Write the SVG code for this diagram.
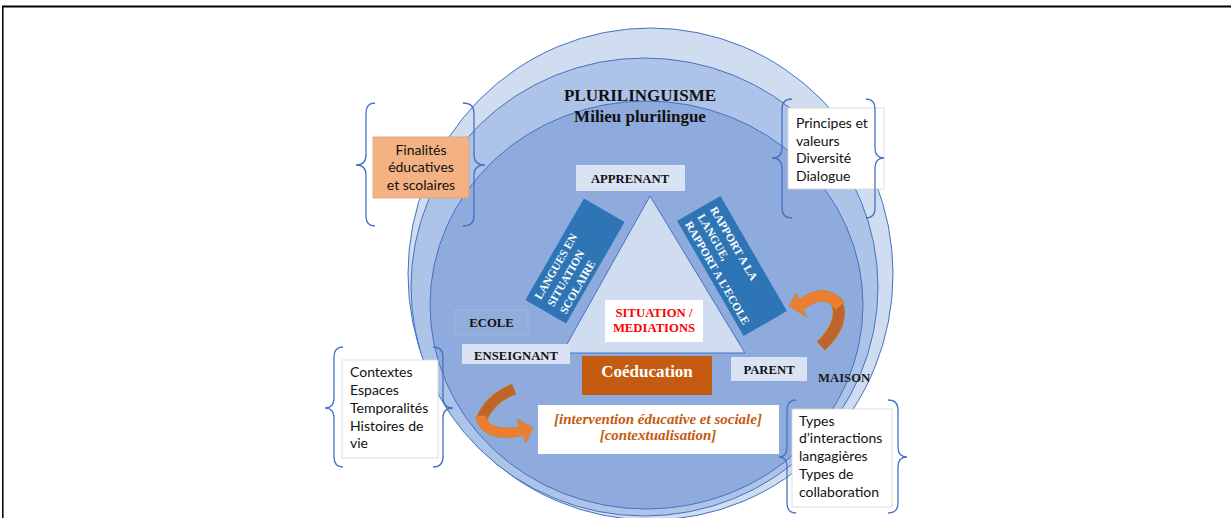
<svg xmlns="http://www.w3.org/2000/svg" width="1231" height="518" viewBox="0 0 1231 518">
<defs>
<style>
.lbl{font-family:"Liberation Serif","Times New Roman",serif;font-weight:bold;fill:#111;}
.side{font-family:Lato,"Liberation Sans",sans-serif;font-size:14px;fill:#111;}
.lb{fill:#dae3f3;stroke:none;}
.wbox{fill:#fff;stroke:#d4d4d4;stroke-width:0.8;}
.brace{fill:none;stroke:#4472c4;stroke-width:1.3;}
.ring{stroke:#4472c4;stroke-width:1;}
.rot{fill:#2e75b6;}
.rtxt{font-family:"Liberation Serif","Times New Roman",serif;font-weight:bold;font-size:11.4px;fill:#fff;}
</style>
</defs>
<rect width="1231" height="518" fill="#fff"/>
<!-- frame -->
<line x1="2" y1="6.5" x2="1231" y2="6.5" stroke="#000" stroke-width="2"/>
<line x1="2.8" y1="6" x2="2.8" y2="518" stroke="#000" stroke-width="1.5"/>

<g id="circles">
<ellipse class="ring" cx="650.5" cy="274" rx="242.5" ry="246" fill="#d0dcf0"/>
<ellipse class="ring" cx="644.5" cy="287" rx="233.5" ry="229" fill="#adc3e7"/>
<ellipse class="ring" cx="646.5" cy="305" rx="216.5" ry="204" fill="#8faadc"/>
</g>

<g id="titles">
<text class="lbl" x="640" y="101" font-size="17" text-anchor="middle">PLURILINGUISME</text>
<text class="lbl" x="640" y="122" font-size="17" text-anchor="middle">Milieu plurilingue</text>
</g>

<g id="triangle">
<polygon points="650,196 562,353 745,353" fill="#d0dcf0" stroke="#4472c4" stroke-width="1"/>
</g>

<g id="langues">
<g transform="translate(575,261) rotate(-60)">
<rect class="rot" x="-58.5" y="-23.5" width="117" height="47"/>
<text class="rtxt" x="-51" y="-10">LANGUES EN</text>
<text class="rtxt" x="-51" y="4.5">SITUATION</text>
<text class="rtxt" x="-51" y="19">SCOLAIRE</text>
</g>
</g>

<g id="rapport">
<g transform="translate(732,266) rotate(60)">
<rect class="rot" x="-66.5" y="-25" width="133" height="50"/>
<text class="rtxt" x="-60" y="-9">RAPPORT A LA</text>
<text class="rtxt" x="-60" y="5.5">LANGUE,</text>
<text class="rtxt" x="-60" y="20">RAPPORT A L’ECOLE</text>
</g>
</g>

<g id="situation">
<rect x="605" y="300" width="98" height="42" fill="#fff"/>
<text class="lbl" x="654" y="316.5" font-size="12.7" text-anchor="middle" style="fill:#ff0000">SITUATION /</text>
<text class="lbl" x="654" y="331.5" font-size="12.7" text-anchor="middle" style="fill:#ff0000">MEDIATIONS</text>
</g>

<g id="apprenant">
<rect class="lb" x="576" y="165" width="109" height="26"/>
<text class="lbl" x="630" y="182.5" font-size="12.7" text-anchor="middle">APPRENANT</text>
</g>

<g id="ecole">
<rect x="455" y="310" width="73" height="25" fill="#92acdc" stroke="#a3b9e0" stroke-width="0.8"/>
<text class="lbl" x="491.5" y="326.7" font-size="12.7" text-anchor="middle">ECOLE</text>
</g>

<g id="enseignant">
<rect class="lb" x="462" y="344" width="108" height="20"/>
<text class="lbl" x="516" y="359.5" font-size="12.7" text-anchor="middle">ENSEIGNANT</text>
</g>

<g id="parent">
<rect class="lb" x="731" y="357" width="76" height="24"/>
<text class="lbl" x="769" y="373.5" font-size="12.7" text-anchor="middle">PARENT</text>
</g>

<g id="maison">
<text class="lbl" x="818" y="382" font-size="12.7" style="fill:#1a1a1a">MAISON</text>
</g>

<g id="coeducation">
<rect x="582" y="356" width="130" height="39" fill="#c55a11"/>
<text class="lbl" x="647" y="376.5" font-size="17" text-anchor="middle" style="fill:#fff">Coéducation</text>
</g>

<g id="intervention">
<rect x="538" y="405" width="241" height="49" fill="#fff"/>
<text class="lbl" x="658" y="424" font-size="15" font-style="italic" text-anchor="middle" style="fill:#c55a11">[intervention éducative et sociale]</text>
<text class="lbl" x="658" y="440" font-size="15" font-style="italic" text-anchor="middle" style="fill:#c55a11">[contextualisation]</text>
</g>

<g id="connectors">
<!-- left curved arrow -->
<path d="M 514 389 Q 490 398 481 420" fill="none" stroke="#b8902e" stroke-width="11.5"/>
<path d="M 514 389 Q 490 398 481 420" fill="none" stroke="#c0642c" stroke-width="10"/>
<path d="M 481 416 C 482 430 500 436 521 431" fill="none" stroke="#b8902e" stroke-width="10.5"/>
<path d="M 481 416 C 482 430 500 436 521 431" fill="none" stroke="#ed7d31" stroke-width="9"/>
<polygon points="516.5,419 533,427.5 526,443" fill="#ed7d31" stroke="#b8902e" stroke-width="0.8"/>
<!-- right curved arrow -->
<path d="M 836 300 Q 846 322 821 346" fill="none" stroke="#b8902e" stroke-width="12.5"/>
<path d="M 836 300 Q 846 322 821 346" fill="none" stroke="#c0642c" stroke-width="11"/>
<path d="M 801 305 Q 825 286 840 306" fill="none" stroke="#b8902e" stroke-width="11.5"/>
<path d="M 801 305 Q 825 286 840 306" fill="none" stroke="#ed7d31" stroke-width="10"/>
<polygon points="796.5,293 806.5,317 789,306" fill="#ed7d31" stroke="#b8902e" stroke-width="0.8"/>
</g>

<g id="finalites">
<rect x="373" y="137" width="96" height="61" fill="#f4b183" stroke="#d9a27a" stroke-width="0.8"/>
<text class="side" x="421" y="154.5" text-anchor="middle">Finalités</text>
<text class="side" x="421" y="172" text-anchor="middle">éducatives</text>
<text class="side" x="421" y="189.5" text-anchor="middle">et scolaires</text>
</g>

<g id="principes">
<rect class="wbox" x="788" y="108" width="96" height="81"/>
<text class="side" x="796" y="128">Principes et</text>
<text class="side" x="796" y="145.5">valeurs</text>
<text class="side" x="796" y="163.2">Diversité</text>
<text class="side" x="796" y="180.7">Dialogue</text>
</g>

<g id="contextes">
<rect class="wbox" x="342" y="360" width="96" height="98"/>
<text class="side" x="350" y="376.7">Contextes</text>
<text class="side" x="350" y="394.5">Espaces</text>
<text class="side" x="350" y="412.5">Temporalités</text>
<text class="side" x="350" y="430.5">Histoires de</text>
<text class="side" x="350" y="448">vie</text>
</g>

<g id="types">
<rect class="wbox" x="792" y="409" width="100" height="98"/>
<text class="side" x="799" y="425.7">Types</text>
<text class="side" x="799" y="443.3">d’interactions</text>
<text class="side" x="799" y="461">langagières</text>
<text class="side" x="799" y="479">Types de</text>
<text class="side" x="799" y="496.7">collaboration</text>
</g>

<g id="braces">
<path class="brace" d="M 375 103 Q 366 103 366 113 L 366 155 Q 366 165 356 165 Q 366 165 366 175 L 366 216 Q 366 226 375 226"/>
<path class="brace" d="M 463 103 Q 474 103 474 113 L 474 155 Q 474 165 485 165 Q 474 165 474 175 L 474 216 Q 474 226 463 226"/>
<path class="brace" d="M 792 99 Q 782 99 782 109 L 782 148 Q 782 158 772 158 Q 782 158 782 168 L 782 208 Q 782 218 792 218"/>
<path class="brace" d="M 866 99 Q 875 99 875 109 L 875 148 Q 875 158 884 158 Q 875 158 875 168 L 875 208 Q 875 218 866 218"/>
<path class="brace" d="M 343 347 Q 334 347 334 357 L 334 398 Q 334 408 325 408 Q 334 408 334 418 L 334 457 Q 334 467 343 467"/>
<path class="brace" d="M 433 347 Q 443 347 443 357 L 443 398 Q 443 408 453 408 Q 443 408 443 418 L 443 457 Q 443 467 433 467"/>
<path class="brace" d="M 796 400 Q 787 400 787 410 L 787 447 Q 787 457 779 457 Q 787 457 787 467 L 787 503 Q 787 513 796 513"/>
<path class="brace" d="M 888 400 Q 898 400 898 410 L 898 447 Q 898 457 907 457 Q 898 457 898 467 L 898 503 Q 898 513 888 513"/>
</g>
</svg>
